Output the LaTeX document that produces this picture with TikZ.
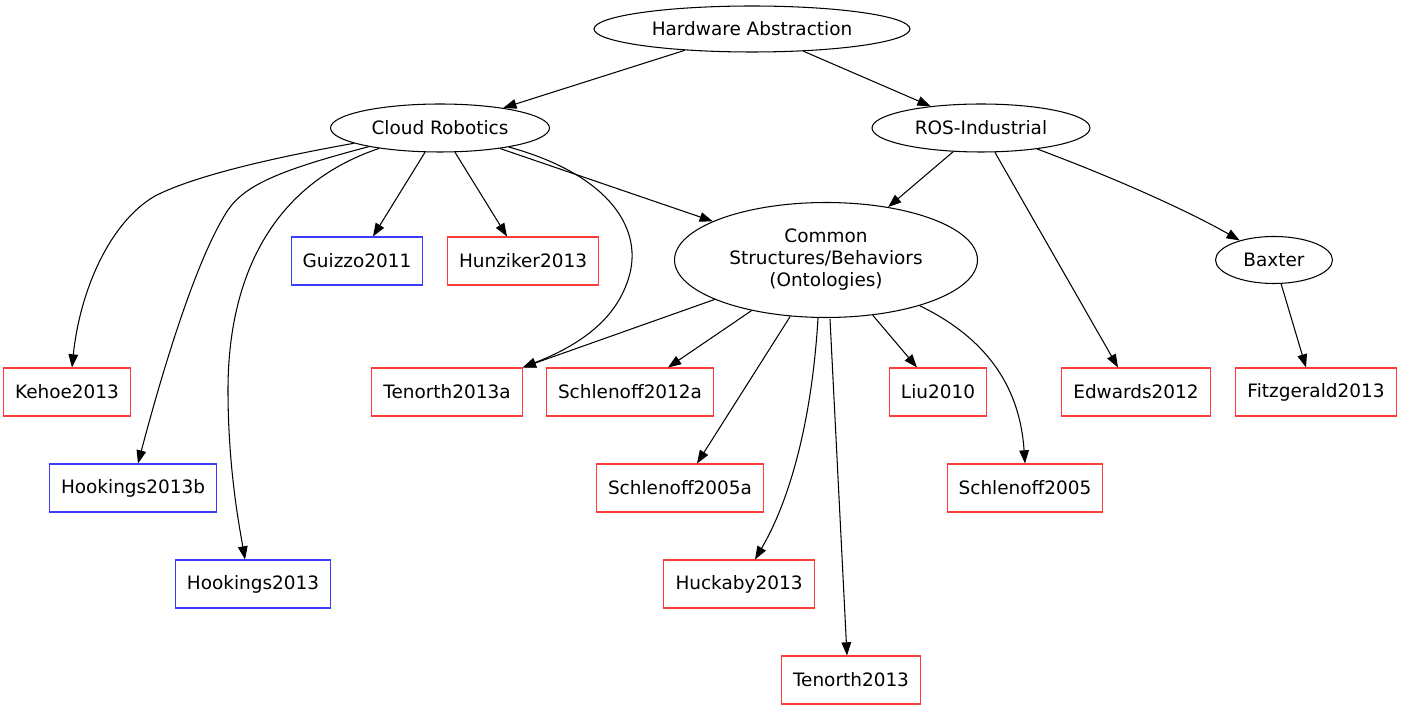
\documentclass[tikz,border=0pt]{standalone}
\usepackage{fontspec}
\setmainfont{DejaVu Sans}
\usepackage{tikz}
\usetikzlibrary{shapes.geometric,arrows.meta,calc}
\usepackage{xcolor}
\definecolor{refred}{RGB}{255,60,60}
\definecolor{refblue}{RGB}{60,60,255}
\tikzset{
    topicnode/.style={
        ellipse,
        draw,
        inner sep=0pt,
        align=center
    },
    refnode/.style={
        rectangle,
        draw,
        inner xsep=6.6pt,
        minimum height=0.96cm,
        text centered
    },
    redref/.style={
        refnode,
        draw=refred
    },
    blueref/.style={
        refnode,
        draw=refblue
    },
    link/.style={
        -{Triangle[length=7.5pt,width=5.5pt]},
        line width=0.6pt
    }
}
\begin{document}
\begin{tikzpicture}[x=0.02cm,y=-0.02cm,font=\fontsize{10.5}{12.5}\selectfont,line width=0.6pt]
        \useasboundingbox (0,0) rectangle (1401,709);

        % Topic nodes (ellipses)
        \node[topicnode,minimum width=6.32cm,minimum height=0.92cm] (hw) at (752,29) {Hardware Abstraction};
        \node[topicnode,minimum width=4.38cm,minimum height=0.96cm] (cloud) at (440,128) {Cloud Robotics};
        \node[topicnode,minimum width=4.36cm,minimum height=0.96cm] (ros) at (981,128) {ROS-Industrial};
        \node[topicnode,minimum width=6.06cm,minimum height=2.3cm] (common) at (826,260) {Common\\Structures/Behaviors\\(Ontologies)};
        \node[topicnode,minimum width=2.34cm,minimum height=0.94cm] (baxter) at (1274,260) {Baxter};

        % Row 1 references
        \node[blueref] (guizzo) at (357,261) {Guizzo2011};
        \node[redref] (hunziker) at (523,261) {Hunziker2013};

        % Row 2 references
        \node[redref] (kehoe) at (67,392) {Kehoe2013};
        \node[redref] (tenortha) at (447,392) {Tenorth2013a};
        \node[redref] (schlenoffb) at (630,392) {Schlenoff2012a};
        \node[redref] (liu) at (938,392) {Liu2010};
        \node[redref] (edwards) at (1136,392) {Edwards2012};
        \node[redref] (fitz) at (1316,392) {Fitzgerald2013};

        % Row 3 references
        \node[blueref] (hookingsb) at (133,488) {Hookings2013b};
        \node[redref] (schlenoffa) at (680,488) {Schlenoff2005a};
        \node[redref] (schlenoff) at (1025,488) {Schlenoff2005};

        % Row 4 and 5 references
        \node[blueref] (hookings) at (253,584) {Hookings2013};
        \node[redref] (huckaby) at (739,584) {Huckaby2013};
        \node[redref] (tenorth) at (851,680) {Tenorth2013};

        % Top level links
        \draw[link] (hw) -- (cloud);
        \draw[link] (hw) -- (ros);

        % Cloud Robotics links
        \draw[link] (cloud) .. controls (260,160) and (190,178) .. (155,196)
            .. controls (110,222) and (80,290) .. ($(kehoe.north)+(5,0)$);
        \draw[link] (cloud) .. controls (280,170) and (245,185) .. (228,210)
            .. controls (195,260) and (160,380) .. ($(hookingsb.north)+(5,0)$);
        \draw[link] (cloud) .. controls (270,185) and (228,280) .. (228,390)
            .. controls (228,470) and (240,530) .. ($(hookings.north)+(-8,0)$);
        \draw[link] (cloud) -- ($(guizzo.north)+(16,0)$);
        \draw[link] (cloud) -- ($(hunziker.north)+(-16,0)$);
        \draw[link] (cloud) -- (common);
        \draw[link] (cloud) .. controls (610,175) and (645,230) .. (628,280)
            .. controls (615,320) and (580,345) .. (tenortha.north east);

        % Common Structures links
        \draw[link] (common) -- (tenortha.north east);
        \draw[link] (common) -- ($(schlenoffb.north)+(38,0)$);
        \draw[link] (common) -- ($(schlenoffa.north)+(17,0)$);
        \draw[link] (818,318) .. controls (812,420) and (790,500) .. ($(huckaby.north)+(16,0)$);
        \draw[link] (830,319) -- ($(tenorth.north)+(-4,0)$);
        \draw[link] (common) -- ($(liu.north)+(-21,0)$);
        \draw[link] (common) .. controls (990,340) and (1020,390) .. (schlenoff.north);

        % ROS-Industrial links
        \draw[link] (ros) -- (common);
        \draw[link] (ros) -- ($(edwards.north)+(-18,0)$);
        \draw[link] (ros) .. controls (1120,180) and (1190,212) .. (baxter);
        \draw[link] (baxter) -- ($(fitz.north)+(-10,0)$);
    \end{tikzpicture}
\end{document}
